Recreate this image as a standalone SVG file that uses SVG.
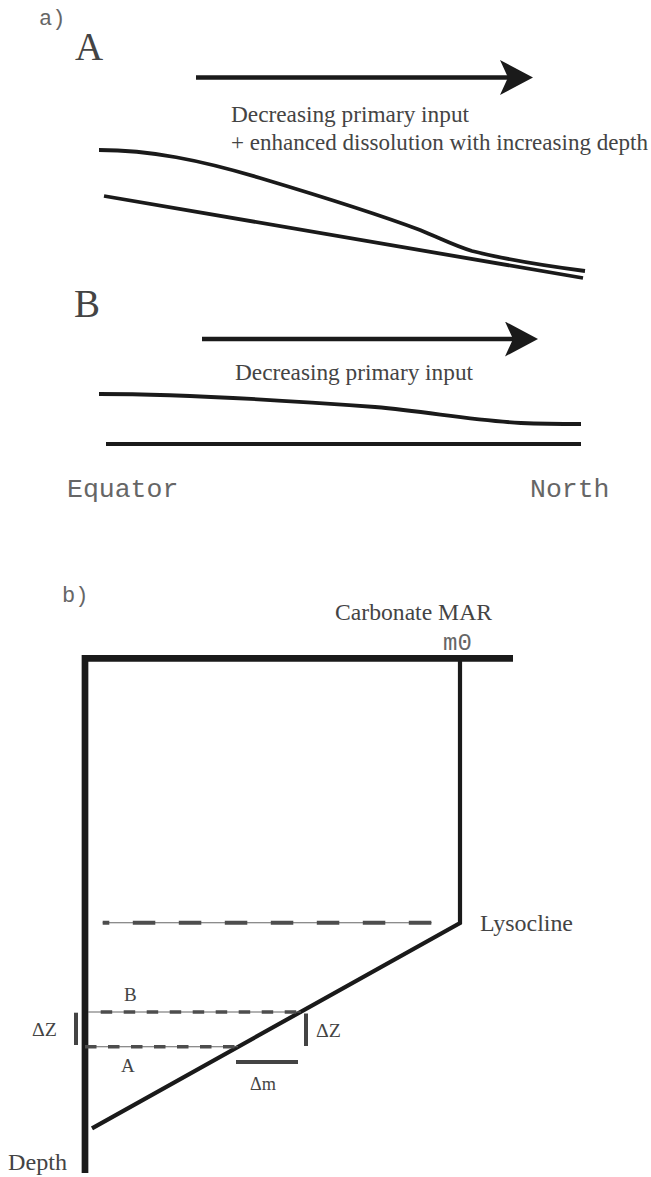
<svg xmlns="http://www.w3.org/2000/svg" width="651" height="1177" viewBox="0 0 651 1177">
  <style>
    .serif { font-family: "Liberation Serif", "Times New Roman", serif; fill: #444; }
    .mono { font-family: "Liberation Mono", "Courier New", monospace; fill: #666; }
    .curve { fill: none; stroke: #1a1a1a; stroke-width: 3.8; stroke-linecap: butt; }
    .arrow { fill: none; stroke: #1a1a1a; stroke-width: 4.5; }
    .frame { fill: none; stroke: #1a1a1a; stroke-width: 6.7; }
    .thinframe { fill: none; stroke: #1a1a1a; stroke-width: 4.2; }
    .guide { stroke: #666; stroke-width: 1.1; }
    .dashL { stroke: #4d4d4d; stroke-width: 4; stroke-dasharray: 22.5 23.5; }
    .dashS { stroke: #4d4d4d; stroke-width: 3.6; stroke-dasharray: 11.5 11.5; }
    .bar { stroke: #444; stroke-width: 4; }
  </style>
  <defs>
    <marker id="head" markerUnits="userSpaceOnUse" viewBox="0 0 33 35" refX="8" refY="17.5" markerWidth="33" markerHeight="35" orient="auto">
      <path d="M0,0 L33,17.5 L0,35 L8,17.5 Z" fill="#1a1a1a"/>
    </marker>
    <clipPath id="clipLys"><rect x="102.7" y="915" width="330" height="16"/></clipPath>
  </defs>

  <g id="panel-a">
    <text class="mono" x="39" y="25" font-size="22">a)</text>
    <g id="case-A">
      <text class="serif" x="75" y="60" font-size="39">A</text>
      <line class="arrow" x1="196" y1="77.5" x2="508" y2="77.5" marker-end="url(#head)"/>
      <text class="serif" x="231" y="122" font-size="23" textLength="238" lengthAdjust="spacingAndGlyphs">Decreasing primary input</text>
      <text class="serif" x="231" y="150" font-size="23" textLength="417" lengthAdjust="spacingAndGlyphs">+ enhanced dissolution with increasing depth</text>
      <path class="curve" d="M99,150 C150,150 200,160 260,178 C320,196 380,215 420,230 C442,239 455,246 472,251 C512,261 546,266 585,271"/>
      <path class="curve" d="M104,196 L583,278"/>
    </g>
    <g id="case-B">
      <text class="serif" x="74" y="317" font-size="39">B</text>
      <line class="arrow" x1="202" y1="339" x2="513" y2="339" marker-end="url(#head)"/>
      <text class="serif" x="235" y="380" font-size="23" textLength="238" lengthAdjust="spacingAndGlyphs">Decreasing primary input</text>
      <path class="curve" d="M99,394 C180,394 280,400 375,407 C430,412 470,420 521,423 C545,424 565,424 581,424"/>
      <path class="curve" d="M106,444 L581,444"/>
    </g>
    <text class="mono" x="67" y="497" font-size="26.5">Equator</text>
    <text class="mono" x="530" y="497" font-size="26.5">North</text>
  </g>

  <g id="panel-b">
    <text class="mono" x="62" y="601.7" font-size="22">b)</text>
    <text class="serif" x="335" y="620" font-size="24" textLength="157" lengthAdjust="spacingAndGlyphs">Carbonate MAR</text>
    <text class="mono" x="443" y="650" font-size="24">m0</text>
    <g id="axes">
      <path class="frame" d="M85,1173 L85,658.3 L513,658.3"/>
    </g>
    <g id="profile">
      <path class="thinframe" d="M460,661 L460,923 L92,1128.3"/>
    </g>
    <g id="lysocline">
      <line class="guide" x1="102.7" y1="922.7" x2="431.7" y2="922.7"/>
      <line class="dashL" x1="86.8" y1="922.7" x2="431.7" y2="922.7" clip-path="url(#clipLys)"/>
      <text class="serif" x="480" y="931" font-size="24" textLength="93" lengthAdjust="spacingAndGlyphs">Lysocline</text>
    </g>
    <g id="level-B">
      <line class="guide" x1="88" y1="1012" x2="301" y2="1012"/>
      <line class="dashS" x1="100.7" y1="1012" x2="298" y2="1012"/>
      <text class="serif" x="124" y="1000.7" font-size="19">B</text>
    </g>
    <g id="level-A">
      <line class="guide" x1="88" y1="1046.7" x2="238" y2="1046.7"/>
      <line class="dashS" x1="85" y1="1046.7" x2="236" y2="1046.7"/>
      <text class="serif" x="121" y="1071.7" font-size="19">A</text>
    </g>
    <g id="delta-labels">
      <line class="bar" x1="76" y1="1012.7" x2="76" y2="1045"/>
      <text class="serif" x="32" y="1036" font-size="19" textLength="25" lengthAdjust="spacingAndGlyphs">ΔZ</text>
      <line class="bar" x1="306" y1="1013.5" x2="306" y2="1046"/>
      <text class="serif" x="316" y="1037" font-size="19" textLength="25" lengthAdjust="spacingAndGlyphs">ΔZ</text>
      <line class="bar" x1="236" y1="1062" x2="298" y2="1062"/>
      <text class="serif" x="250" y="1090" font-size="19" textLength="26" lengthAdjust="spacingAndGlyphs">Δm</text>
    </g>
    <text class="serif" x="8" y="1170" font-size="23" textLength="59" lengthAdjust="spacingAndGlyphs">Depth</text>
  </g>
</svg>
